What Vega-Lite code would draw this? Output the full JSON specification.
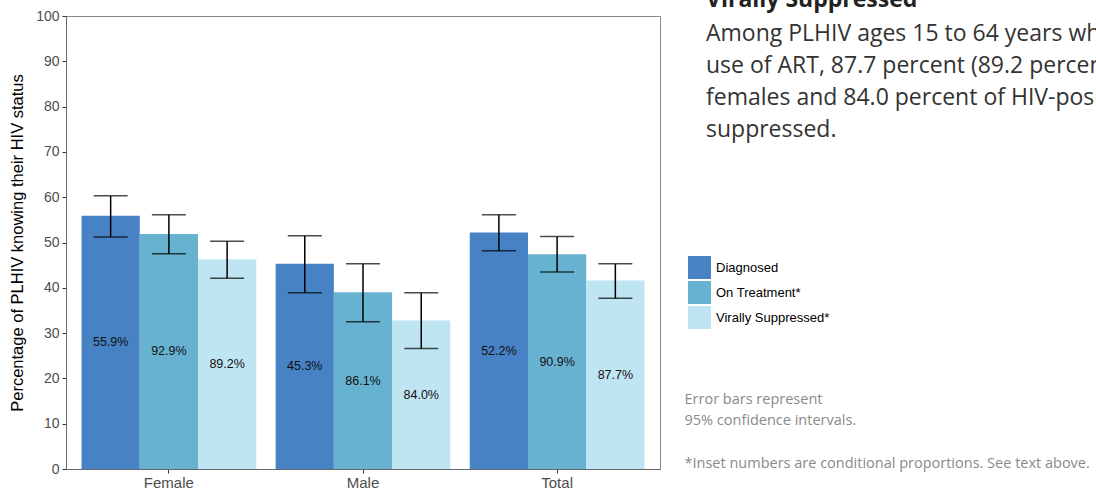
{
  "$schema": "https://vega.github.io/schema/vega-lite/v6.json",
  "width": 594,
  "height": 453,
  "autosize": {"type": "none"},
  "padding": {"left": 66, "top": 16, "right": 436, "bottom": 24},
  "background": "white",
  "config": {
    "font": "Liberation Sans",
    "view": {"stroke": "#8a8a8a", "strokeWidth": 1}
  },
  "title": {
    "text": "Virally Suppressed",
    "subtitle": [
      "Among PLHIV ages 15 to 64 years who self-reported current",
      "use of ART, 87.7 percent (89.2 percent of HIV-positive",
      "females and 84.0 percent of HIV-positive males) were virally",
      "suppressed."
    ],
    "anchor": "start",
    "frame": "group",
    "orient": "top",
    "dx": 640,
    "dy": 133,
    "offset": 0,
    "font": "Open Sans",
    "fontSize": 23,
    "fontWeight": "bold",
    "color": "#222222",
    "subtitleFont": "Open Sans",
    "subtitleFontSize": 23,
    "subtitleFontWeight": "normal",
    "subtitleColor": "#333333",
    "subtitleLineHeight": 32,
    "subtitlePadding": 11
  },
  "data": {
    "values": [
      {"sex": "Female", "series": "Diagnosed", "value": 55.9, "lo": 51.2, "hi": 60.3, "label": "55.9%"},
      {"sex": "Female", "series": "On Treatment*", "value": 51.9, "lo": 47.5, "hi": 56.1, "label": "92.9%"},
      {"sex": "Female", "series": "Virally Suppressed*", "value": 46.3, "lo": 42.1, "hi": 50.3, "label": "89.2%"},
      {"sex": "Male", "series": "Diagnosed", "value": 45.3, "lo": 38.9, "hi": 51.5, "label": "45.3%"},
      {"sex": "Male", "series": "On Treatment*", "value": 39.0, "lo": 32.5, "hi": 45.3, "label": "86.1%"},
      {"sex": "Male", "series": "Virally Suppressed*", "value": 32.8, "lo": 26.6, "hi": 38.9, "label": "84.0%"},
      {"sex": "Total", "series": "Diagnosed", "value": 52.2, "lo": 48.2, "hi": 56.1, "label": "52.2%"},
      {"sex": "Total", "series": "On Treatment*", "value": 47.4, "lo": 43.5, "hi": 51.3, "label": "90.9%"},
      {"sex": "Total", "series": "Virally Suppressed*", "value": 41.6, "lo": 37.7, "hi": 45.3, "label": "87.7%"}
    ]
  },
  "encoding": {
    "x": {
      "field": "sex",
      "type": "nominal",
      "sort": ["Female", "Male", "Total"],
      "scale": {"paddingInner": 0.1, "paddingOuter": 0.08},
      "axis": {
        "title": ["Error bars represent", "95% confidence intervals."],
        "titleX": 618,
        "titleY": -77,
        "titleAlign": "left",
        "titleBaseline": "top",
        "titleAngle": 0,
        "titleFont": "Open Sans",
        "titleFontSize": 14.5,
        "titleFontWeight": "normal",
        "titleColor": "#8a8a8a",
        "titleLineHeight": 21,
        "labelAngle": 0,
        "labelFontSize": 15,
        "labelColor": "#4d4d4d",
        "labelPadding": 2,
        "tickSize": 4,
        "tickColor": "#333333",
        "domainColor": "#666666"
      }
    },
    "xOffset": {
      "field": "series",
      "type": "nominal",
      "sort": ["Diagnosed", "On Treatment*", "Virally Suppressed*"],
      "scale": {"paddingInner": 0, "paddingOuter": 0}
    }
  },
  "layer": [
    {
      "mark": {"type": "bar"},
      "encoding": {
        "y": {
          "field": "value",
          "type": "quantitative",
          "scale": {"domain": [0, 100], "nice": false},
          "axis": {
            "title": "Percentage of PLHIV knowing their HIV status",
            "titleFontSize": 16.5,
            "titleFontWeight": "normal",
            "titleColor": "#000000",
            "titlePadding": 10,
            "values": [0, 10, 20, 30, 40, 50, 60, 70, 80, 90, 100],
            "grid": false,
            "labelFontSize": 14,
            "labelColor": "#4d4d4d",
            "labelPadding": 3,
            "tickSize": 4,
            "tickColor": "#333333",
            "domainColor": "#666666"
          }
        },
        "color": {
          "field": "series",
          "type": "nominal",
          "sort": ["Diagnosed", "On Treatment*", "Virally Suppressed*"],
          "scale": {
            "domain": ["Diagnosed", "On Treatment*", "Virally Suppressed*"],
            "range": ["#4682c4", "#68b2d1", "#bfe4f2"]
          },
          "legend": {
            "title": null,
            "orient": "none",
            "legendX": 622,
            "legendY": 240,
            "padding": 0,
            "symbolType": "square",
            "symbolSize": 529,
            "symbolStrokeWidth": 0,
            "symbolOpacity": 1,
            "labelFontSize": 13,
            "labelColor": "#000000",
            "labelOffset": 5,
            "rowPadding": 2
          }
        }
      }
    },
    {
      "mark": {"type": "rule", "color": "#000000", "strokeWidth": 1.5},
      "encoding": {
        "y": {
          "field": "lo",
          "type": "quantitative",
          "scale": {"domain": [0, 100], "nice": false},
          "axis": {
            "orient": "right",
            "domain": false,
            "labels": false,
            "ticks": false,
            "grid": false,
            "title": "*Inset numbers are conditional proportions. See text above.",
            "titleAngle": 0,
            "titleX": 24,
            "titleY": 440,
            "titleAlign": "left",
            "titleBaseline": "top",
            "titleFont": "Open Sans",
            "titleFontSize": 14.5,
            "titleFontWeight": "normal",
            "titleColor": "#8a8a8a"
          }
        },
        "y2": {"field": "hi"}
      }
    },
    {
      "mark": {"type": "tick", "color": "#000000", "thickness": 1.5, "size": 34},
      "encoding": {
        "y": {"field": "lo", "type": "quantitative", "scale": {"domain": [0, 100], "nice": false}, "axis": null}
      }
    },
    {
      "mark": {"type": "tick", "color": "#000000", "thickness": 1.5, "size": 34},
      "encoding": {
        "y": {"field": "hi", "type": "quantitative", "scale": {"domain": [0, 100], "nice": false}, "axis": null}
      }
    },
    {
      "mark": {"type": "text", "fontSize": 12.5, "color": "#111111", "baseline": "middle", "font": "Liberation Sans"},
      "encoding": {
        "y": {"field": "value", "type": "quantitative", "scale": {"domain": [0, 200], "nice": false}, "axis": null},
        "text": {"field": "label"}
      }
    }
  ],
  "resolve": {"scale": {"y": "independent"}}
}
